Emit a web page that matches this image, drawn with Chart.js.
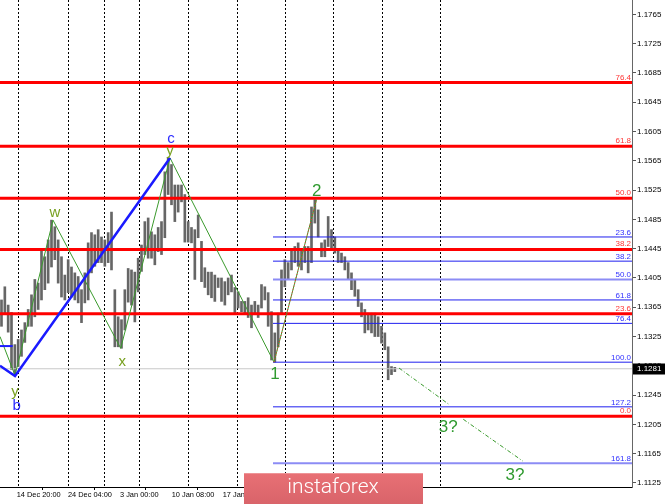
<!DOCTYPE html>
<html><head><meta charset="utf-8">
<script src="https://cdn.jsdelivr.net/npm/chart.js@4.4.1/dist/chart.umd.min.js"></script>
<style>html,body{margin:0;padding:0;background:#fff;overflow:hidden}#c{display:block}</style>
</head><body>
<canvas id="c" width="665" height="504"></canvas>
<script>
// ---- data ----
const candleHigh = [
1.1375,1.1393,1.1368,1.1358,1.1314,1.1321,1.1334,1.1344,1.1362,1.1382,
1.1403,1.1398,1.1444,1.1434,1.1457,1.1484,1.1475,1.1457,1.1434,1.1409,
1.1430,1.1420,1.1412,1.1407,1.1389,1.1412,1.1453,1.1467,1.1464,1.1471,
1.1461,1.1457,1.1467,1.1495,1.1389,1.1352,1.1348,1.1389,1.1418,1.1416,
1.1413,1.1432,1.1450,1.1482,1.1487,1.1468,1.1464,1.1474,1.1482,1.1550,
1.1569,1.1560,1.1532,1.1532,1.1532,1.1519,1.1482,1.1474,1.1471,1.1491,
1.1455,1.1419,1.1413,1.1413,1.1409,1.1405,1.1405,1.1400,1.1405,1.1409,
1.1392,1.1386,1.1373,1.1373,1.1378,1.1368,1.1373,1.1368,1.1396,1.1393,
1.1385,1.1359,1.1330,1.1357,1.1416,1.1430,1.1426,1.1444,1.1448,1.1453,
1.1444,1.1448,1.1448,1.1502,1.1512,1.1498,1.1453,1.1457,1.1489,1.1471,
1.1461,1.1444,1.1439,1.1434,1.1426,1.1412,1.1403,1.1389,1.1371,1.1362,
1.1357,1.1357,1.1357,1.1352,1.1339,1.1330,1.1311,1.1284,1.1283];
const candleLow = [
1.1339,1.1357,1.1331,1.1280,1.1272,1.1284,1.1298,1.1317,1.1339,1.1339,
1.1352,1.1362,1.1375,1.1389,1.1398,1.1420,1.1430,1.1398,1.1379,1.1375,
1.1385,1.1379,1.1375,1.1371,1.1344,1.1371,1.1375,1.1412,1.1421,1.1426,
1.1426,1.1421,1.1426,1.1416,1.1311,1.1311,1.1309,1.1334,1.1372,1.1368,
1.1345,1.1386,1.1414,1.1437,1.1432,1.1432,1.1423,1.1441,1.1437,1.1460,
1.1519,1.1505,1.1482,1.1495,1.1509,1.1454,1.1454,1.1453,1.1403,1.1460,
1.1400,1.1392,1.1382,1.1378,1.1373,1.1392,1.1373,1.1368,1.1382,1.1386,
1.1355,1.1364,1.1359,1.1355,1.1351,1.1337,1.1355,1.1351,1.1364,1.1375,
1.1339,1.1293,1.1290,1.1311,1.1357,1.1393,1.1403,1.1416,1.1426,1.1421,
1.1416,1.1426,1.1412,1.1426,1.1480,1.1461,1.1434,1.1434,1.1448,1.1444,
1.1439,1.1426,1.1426,1.1416,1.1403,1.1389,1.1380,1.1366,1.1352,1.1330,
1.1334,1.1330,1.1325,1.1325,1.1316,1.1307,1.1266,1.1273,1.1277];
const lastPrice = 1.1281;

const yTickValues = [1.1125,1.1165,1.1205,1.1245,1.1285,1.1325,1.1365,1.1405,1.1445,1.1485,1.1525,1.1565,1.1605,1.1645,1.1685,1.1725,1.1765];
const xTickIndex = [4.56, 19.95, 35.55, 51.06, 66.36];
const xTickLabels = ['14 Dec 20:00','24 Dec 04:00','3 Jan 00:00','10 Jan 08:00','17 Jan 12:00'];
const weekSeparators = [5.04, 19.86, 30.84, 41.34, 56.04, 70.56, 85.05, 99.54, 114.06, 131.55];

const fibRedNames  = ['0.0','23.6','38.2','50.0','61.8','76.4'];
const fibRedPrices = [1.1216,1.1356,1.1444,1.1514,1.1585,1.1672];
const fibBlueNames  = ['23.6','38.2','50.0','61.8','76.4','100.0','127.2','161.8'];
const fibBluePrices = [1.1461,1.1428,1.1403,1.1375,1.1343,1.1290,1.1229,1.1152];
const fibBlueStart = 81.45;

const waveGreen = [{x:-0.45,y:1.1325},{x:4.05,y:1.1272},{x:15.45,y:1.1484},{x:35.76,y:1.1309},{x:50.55,y:1.1569},{x:81.75,y:1.1290}];
const wave12 = [{x:81.75,y:1.1290},{x:94.56,y:1.1513}];
const projA = [{x:119.25,y:1.1282},{x:134.04,y:1.1233}];
const projB = [{x:138.54,y:1.1212},{x:156.36,y:1.1155}];
const waveBlue = [{x:-0.45,y:1.1285},{x:4.05,y:1.1271},{x:50.55,y:1.1569}];
const blueStub = [{x:-0.45,y:1.1312},{x:3.36,y:1.1312}];

const waveLabelText = ['c','y','w','x','y','b','1','2','3?','3?'];
const waveLabelX = [50.85, 50.55, 16.05, 36.24, 4.05, 4.56, 82.05, 94.56, 134.04, 154.05];
const waveLabelY = [1.1595, 1.1579, 1.1494, 1.1290, 1.1250, 1.1230, 1.1273, 1.1523, 1.1201, 1.1136];

const X_MIN = -0.45, X_MAX = 189.15, Y_MIN = 1.11195, Y_MAX = 1.17847;

// ---- styles ----
const RED = '#ff0000', BLUE = '#1f1fef', LIGHTBLUE = '#8c8cf5', GREEN = '#3a9a2c';
function labelStyle(t){
  if (t==='c'||t==='b') return {color:'#2c2cff', size:15};
  if (t==='w'||t==='x'||t==='y') return {color:'#78a020', size:15};
  return {color:'#2f9a2f', size:17};
}

const datasets = [];
datasets.push({
  type:'bar', label:'price',
  data: candleHigh.map((h,i)=>({x:i, y:[candleLow[i], h]})),
  backgroundColor:'#666666', borderWidth:0, barThickness:2, order:20
});
function hline(p, x0, color, width, order){
  return {type:'line', data:[{x:x0,y:p},{x:X_MAX,y:p}], borderColor:color, borderWidth:width, pointRadius:0, order:order};
}
datasets.push(hline(lastPrice, X_MIN, '#c8c8c8', 1, 19));
fibBluePrices.forEach((p,i)=>{
  const n = fibBlueNames[i];
  const light = (n==='50.0'||n==='161.8');
  datasets.push(hline(p, fibBlueStart, light?LIGHTBLUE:BLUE, light?2:1, 15));
});
fibRedPrices.forEach(p=>datasets.push(hline(p, X_MIN, RED, 3, 12)));
function path(pts, color, width, dash, order){
  return {type:'line', data:pts, borderColor:color, borderWidth:width, borderDash:dash||[], pointRadius:0, tension:0, order:order};
}
datasets.push(path(waveGreen, GREEN, 1, null, 6));
datasets.push(path(wave12, GREEN, 1, null, 6));
datasets.push(path(wave12, '#ff3030', 1, [1,2], 5));
datasets.push(path(projA, GREEN, 1, [4,2,1,2], 6));
datasets.push(path(projB, GREEN, 1, [4,2,1,2], 6));
datasets.push(path(waveBlue, '#1a1aff', 2.5, null, 4));
datasets.push(path(blueStub, '#1a1aff', 2, null, 4));

const FONT = "'Liberation Sans', Arial, sans-serif";

const overlay = {
  id:'overlay',
  beforeDatasetsDraw(chart){
    const {ctx, chartArea:a, scales:{x}} = chart;
    ctx.save();
    ctx.strokeStyle = '#000'; ctx.lineWidth = 1; ctx.setLineDash([2,2]);
    weekSeparators.forEach(v=>{
      const px = Math.round(x.getPixelForValue(v))+0.5;
      ctx.beginPath(); ctx.moveTo(px, a.top); ctx.lineTo(px, a.bottom); ctx.stroke();
    });
    ctx.restore();
  },
  afterDatasetsDraw(chart){
    const {ctx, chartArea:a, scales:{x,y}} = chart;
    ctx.save();
    ctx.font = "8px "+FONT; ctx.textAlign='right'; ctx.textBaseline='alphabetic';
    fibRedPrices.forEach((p,i)=>{ ctx.fillStyle='#ff3333'; ctx.fillText(fibRedNames[i], a.right-1, y.getPixelForValue(p)-3); });
    fibBluePrices.forEach((p,i)=>{ ctx.fillStyle='#3030ff'; ctx.fillText(fibBlueNames[i], a.right-1, y.getPixelForValue(p)-2); });
    ctx.textAlign='center'; ctx.textBaseline='middle';
    waveLabelText.forEach((t,i)=>{
      const s = labelStyle(t);
      ctx.font = s.size+"px "+FONT; ctx.fillStyle = s.color;
      ctx.fillText(t, x.getPixelForValue(waveLabelX[i]), y.getPixelForValue(waveLabelY[i]));
    });
    ctx.restore();
  },
  afterDraw(chart){
    const {ctx, chartArea:a, scales:{y}} = chart;
    ctx.save();
    const py = y.getPixelForValue(lastPrice);
    ctx.fillStyle='#000'; ctx.fillRect(a.right+1, Math.round(py)-5.5, 32, 11);
    ctx.fillStyle='#fff'; ctx.font="8px "+FONT; ctx.textAlign='left'; ctx.textBaseline='middle';
    ctx.fillText(lastPrice.toFixed(4), a.right+5, Math.round(py));
    const g = ctx.createLinearGradient(0,473,0,503);
    g.addColorStop(0,'#e87075'); g.addColorStop(1,'#d9646a');
    ctx.fillStyle=g; ctx.fillRect(244,473,179,31);
    ctx.fillStyle='rgba(255,255,255,0.25)'; ctx.fillRect(244,473,179,1);
    ctx.fillStyle='#fff'; ctx.font="300 21px Roboto, sans-serif"; ctx.textAlign='center'; ctx.textBaseline='middle';
    ctx.fillText('instaforex', 333, 488);
    ctx.restore();
  }
};

new Chart(document.getElementById('c'), {
  type:'bar',
  data:{datasets},
  options:{
    responsive:false, animation:false, devicePixelRatio:1,
    layout:{padding:0, autoPadding:false},
    plugins:{legend:{display:false}, tooltip:{enabled:false}},
    scales:{
      x:{type:'linear', min:X_MIN, max:X_MAX, offset:false,
         afterFit(s){ s.height = 17; s.paddingLeft = 0; s.paddingRight = 0; },
         afterBuildTicks(s){ s.ticks = xTickIndex.map(v=>({value:v})); },
         ticks:{autoSkip:false, maxRotation:0, align:'start', padding:1, color:'#000', font:{family:FONT, size:7.4},
                callback:(v,i)=>xTickLabels[i]},
         grid:{drawOnChartArea:false, drawTicks:true, tickLength:3, color:'#000'},
         border:{display:true, color:'#000', width:1}},
      y:{type:'linear', position:'right', min:Y_MIN, max:Y_MAX,
         afterFit(s){ s.width = 33; s.paddingTop = 0; s.paddingBottom = 0; },
         afterBuildTicks(s){ s.ticks = yTickValues.map(v=>({value:v})); },
         ticks:{padding:1, color:'#000', font:{family:FONT, size:8, lineHeight:0.05}, callback:v=>Number(v).toFixed(4)},
         grid:{drawOnChartArea:false, drawTicks:true, tickLength:4, color:'#555'},
         border:{display:true, color:'#666', width:1}}
    }
  },
  plugins:[overlay]
});
</script>
</body></html>
